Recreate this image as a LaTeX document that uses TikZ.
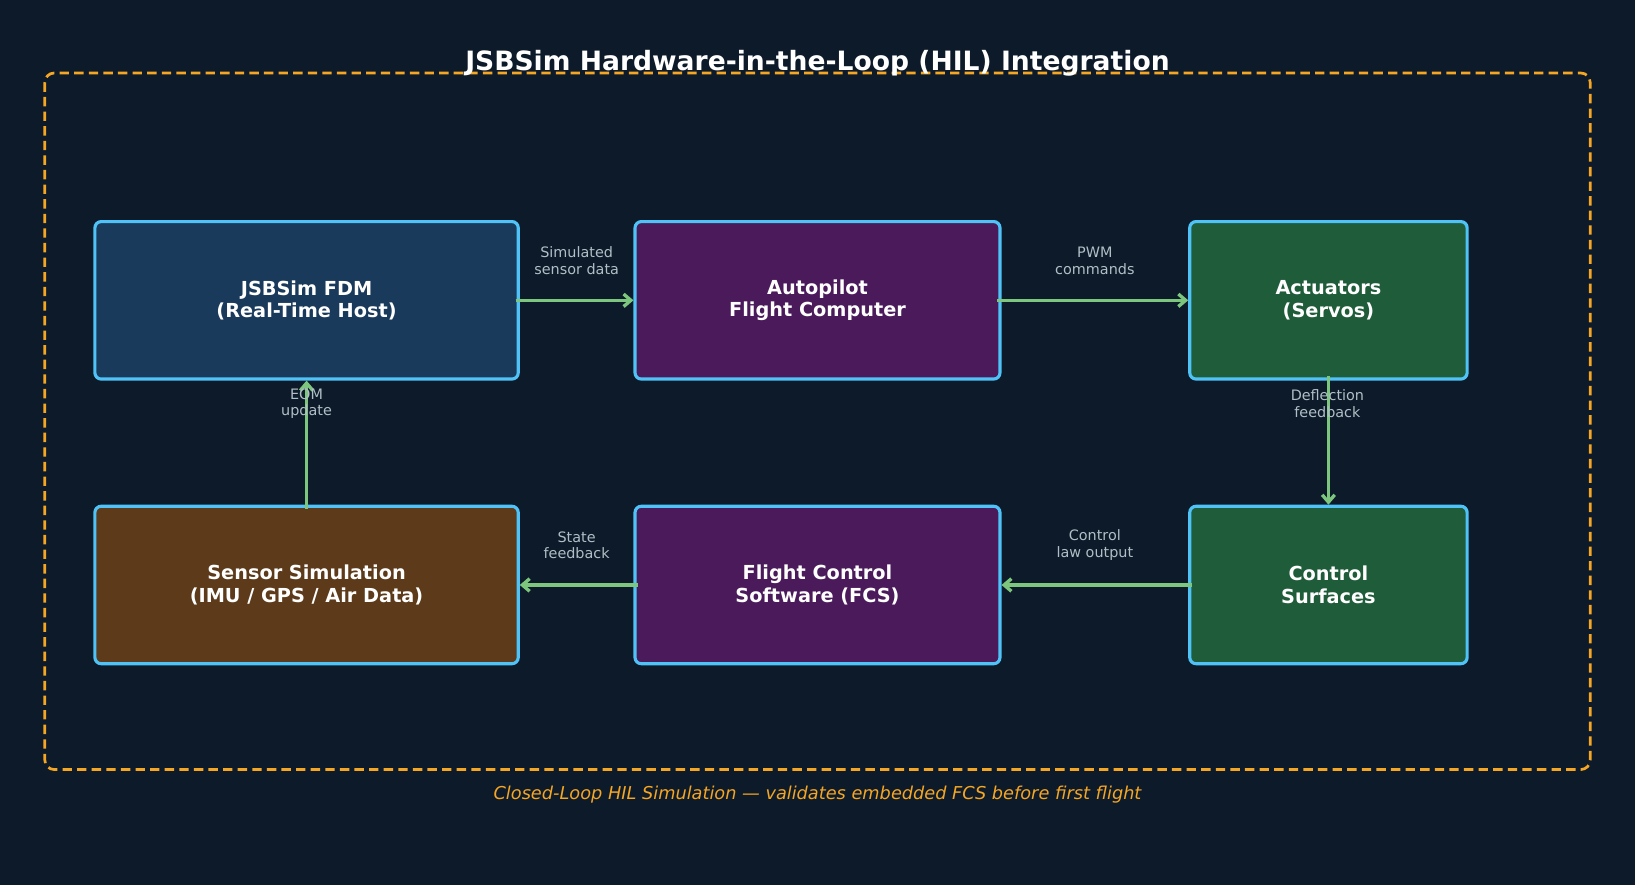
\documentclass[tikz,border=0pt]{standalone}
\usepackage{fontspec}
\setmainfont{DejaVu Sans}
\usetikzlibrary{arrows.meta}
\definecolor{bg}{HTML}{0D1A2A}
\definecolor{bord}{HTML}{4FC3F7}
\definecolor{orng}{HTML}{F5A623}
\definecolor{grn}{HTML}{7DC67D}
\definecolor{lbl}{HTML}{B0BEC5}
\definecolor{cblue}{HTML}{1A3A5C}
\definecolor{cpurp}{HTML}{4A1A5A}
\definecolor{cgreen}{HTML}{1F5C3A}
\definecolor{cbrown}{HTML}{5C3A1A}
\tikzset{
 box/.style={draw=bord,line width=3pt,rounded corners=6pt,text=white,align=center,font=\fontsize{18.5}{21.5}\selectfont\bfseries,inner sep=0pt},
 conn/.style={draw=grn,line width=3.2pt,-{Straight Barb[length=7pt,width=12pt]}},
 lab/.style={text=lbl,align=center,font=\fontsize{13.8}{16}\selectfont}
}
\begin{document}
\begin{tikzpicture}[x=1pt,y=-1pt]
\fill[bg] (0,0) rectangle (1568,849);
\useasboundingbox (0,0) rectangle (1568,849);
\draw[orng,line width=2.6pt,dash pattern=on 9pt off 5pt,rounded corners=9pt] (43,70) rectangle (1525,738);
\node[text=white,font=\fontsize{25.5}{30}\selectfont\bfseries] (title) at (784,61) {JSBSim Hardware-in-the-Loop (HIL) Integration};
\node[box,fill=cblue,minimum width=406pt,minimum height=151pt] (A) at (294,288) {JSBSim FDM\\(Real-Time Host)};
\node[box,fill=cpurp,minimum width=350pt,minimum height=151pt] (B) at (784,288) {Autopilot\\Flight Computer};
\node[box,fill=cgreen,minimum width=266pt,minimum height=151pt] (C) at (1274,288) {Actuators\\(Servos)};
\node[box,fill=cbrown,minimum width=406pt,minimum height=151pt] (D) at (294,561) {Sensor Simulation\\(IMU / GPS / Air Data)};
\node[box,fill=cpurp,minimum width=350pt,minimum height=151pt] (E) at (784,561) {Flight Control\\Software (FCS)};
\node[box,fill=cgreen,minimum width=266pt,minimum height=151pt] (F) at (1274,561) {Control\\Surfaces};
\draw[conn] ([xshift=-4pt]A.east) -- (B.west);
\draw[conn] ([xshift=-4pt]B.east) -- (C.west);
\draw[conn] ([yshift=4pt]C.south) -- (F.north);
\draw[conn] ([xshift=4pt]F.west) -- (E.east);
\draw[conn] ([xshift=4pt]E.west) -- (D.east);
\draw[conn] ([yshift=-4pt]D.north) -- (A.south);
\node[lab] (l1) at (553,250) {Simulated\\sensor data};
\node[lab] (l2) at (1050,250) {PWM\\commands};
\node[lab] (l3) at (1273,387) {Deflection\\feedback};
\node[lab] (l4) at (1050,523) {Control\\law output};
\node[lab] (l5) at (553,523) {State\\feedback};
\node[lab] (l6) at (294,387) {EOM\\update};
\node[text=orng,font=\fontsize{17}{20}\selectfont\itshape] (cap) at (784,762) {Closed-Loop HIL Simulation — validates embedded FCS before first flight};
\end{tikzpicture}
\end{document}
